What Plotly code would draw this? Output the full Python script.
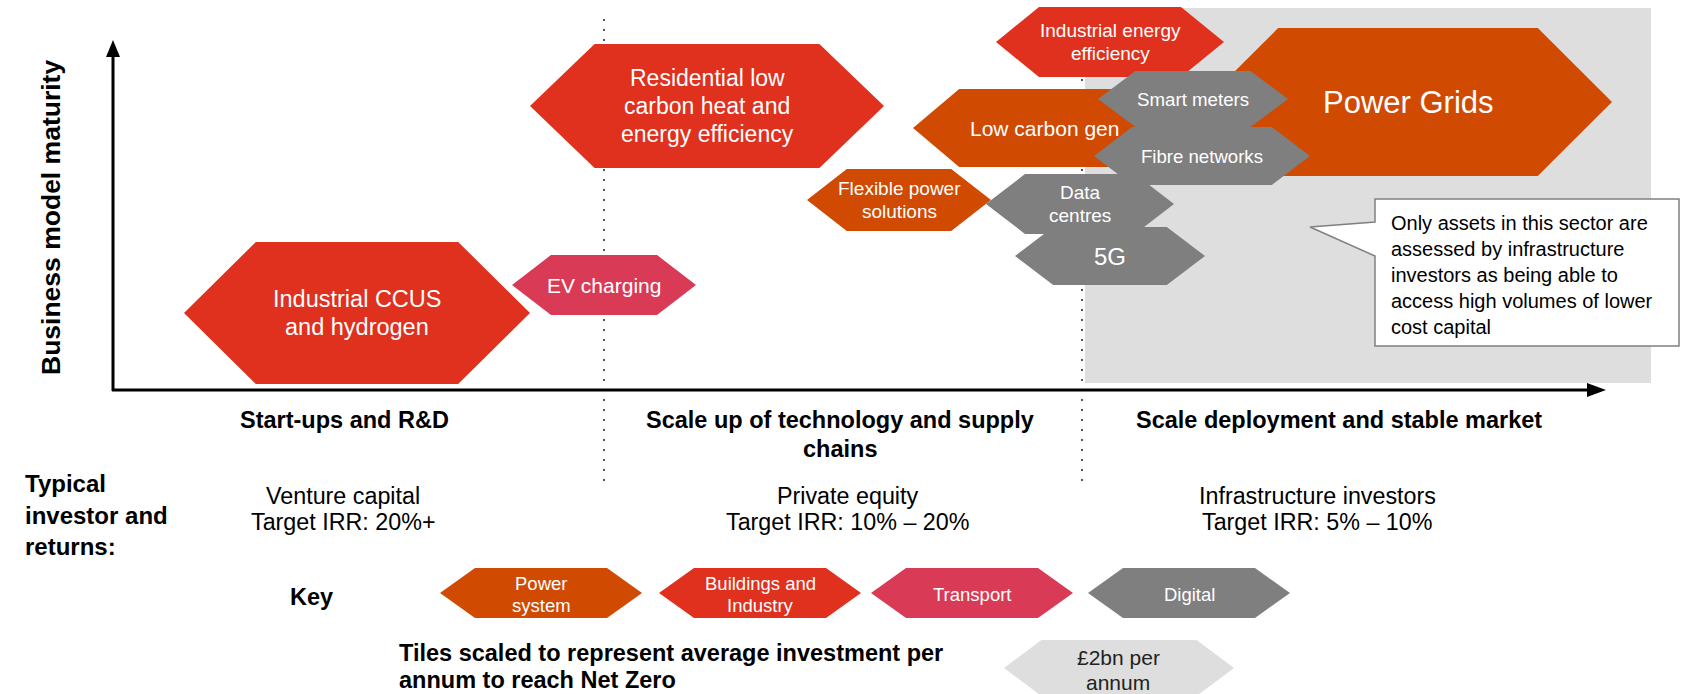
import plotly.graph_objects as go

W, H = 1681, 694
FONT = "Liberation Sans, Arial, sans-serif"

# sector colours
sector_colors = {
    "Power system": "#D04A02",
    "Buildings and Industry": "#E0301E",
    "Transport": "#D93A56",
    "Digital": "#7F7F7F",
}

# tiles on the maturity map (drawn in this order)
tile_labels = ["Industrial CCUS\nand hydrogen", "EV charging",
               "Residential low\ncarbon heat and\nenergy efficiency",
               "Industrial energy\nefficiency", "Power Grids", "Low carbon gen",
               "Flexible power\nsolutions", "Data\ncentres", "5G",
               "Fibre networks", "Smart meters"]
tile_sector = ["Buildings and Industry", "Transport", "Buildings and Industry",
               "Buildings and Industry", "Power system", "Power system",
               "Power system", "Digital", "Digital", "Digital", "Digital"]
tile_x = [357, 604, 707, 1110, 1408, 1044, 899, 1080, 1110, 1202, 1193]
tile_y = [313, 285, 106, 42, 102, 128, 200, 204, 256, 156, 99]
tile_half_w = [173, 92, 177, 114, 204, 131, 92, 94, 95, 108, 95]
tile_half_h = [71, 30, 62, 35, 74, 39, 31, 30, 29, 29, 28]
label_px = [23.5, 21, 23, 19, 31, 21, 19, 19, 24, 18.6, 18.7]

# stages along the x axis
stage_labels = ["Start-ups and R&D", "Scale up of technology and supply\nchains",
                "Scale deployment and stable market"]
stage_x = [344, 840, 1339]
stage_dividers = [604, 1082]
investor_type = ["Venture capital", "Private equity", "Infrastructure investors"]
target_irr = ["Target IRR: 20%+", "Target IRR: 10% – 20%", "Target IRR: 5% – 10%"]
investor_x = [343, 847, 1317]

# key
key_sectors = ["Power system", "Buildings and Industry", "Transport", "Digital"]
key_labels = ["Power\nsystem", "Buildings and\nIndustry", "Transport", "Digital"]
key_x = [541, 760, 972, 1189]
scale_label = "£2bn per\nannum"

callout = ("Only assets in this sector are\nassessed by infrastructure\n"
           "investors as being able to\naccess high volumes of lower\ncost capital")


def hexagon(cx, cy, hw, hh):
    d = 0.8 * hh + 15
    pts = [(cx - hw, cy), (cx - hw + d, cy - hh), (cx + hw - d, cy - hh),
           (cx + hw, cy), (cx + hw - d, cy + hh), (cx - hw + d, cy + hh)]
    return "M" + " L".join(f"{x},{y}" for x, y in pts) + " Z"


shapes = []
annotations = []


def add_text(x, y, text, size, color="#000000", bold=False, anchor="center", spacing=None):
    lines = text.split("\n")
    sp = spacing if spacing else size * 1.2
    y0 = y - sp * (len(lines) - 1) / 2
    for i, line in enumerate(lines):
        annotations.append(dict(
            x=x, y=y0 + i * sp, xref="x", yref="y", showarrow=False,
            text=f"<b>{line}</b>" if bold else line,
            xanchor=anchor, yanchor="middle",
            font=dict(family=FONT, size=size, color=color)))


# grey "infrastructure" zone
shapes.append(dict(type="rect", x0=1085, x1=1651, y0=8, y1=383,
                   fillcolor="#DEDEDE", line=dict(width=0), layer="below"))

# dotted stage dividers
for dx in stage_dividers:
    shapes.append(dict(type="line", x0=dx, x1=dx, y0=19, y1=482,
                       line=dict(color="#555555", width=2, dash="2px,8px"), layer="below"))

# axes with arrow heads
shapes.append(dict(type="line", x0=113, x1=113, y0=391, y1=52, line=dict(color="black", width=3)))
shapes.append(dict(type="line", x0=112, x1=1592, y0=390, y1=390, line=dict(color="black", width=3)))
shapes.append(dict(type="path", path="M113,40 L106,57 L120,57 Z", fillcolor="black", line=dict(width=0)))
shapes.append(dict(type="path", path="M1606,390 L1587,383 L1587,397 Z", fillcolor="black", line=dict(width=0)))

# callout box
shapes.append(dict(type="path",
                   path="M1375,199 L1679,199 L1679,346 L1375,346 L1375,256 L1310,227 L1375,222 Z",
                   fillcolor="white", line=dict(color="#808080", width=1.5)))

# tiles
for lab, sec, x, y, hw, hh, fs in zip(tile_labels, tile_sector, tile_x, tile_y,
                                      tile_half_w, tile_half_h, label_px):
    shapes.append(dict(type="path", path=hexagon(x, y, hw, hh),
                       fillcolor=sector_colors[sec], line=dict(width=0)))
    add_text(x, y, lab, fs, "white")

# key tiles
for sec, lab, x in zip(key_sectors, key_labels, key_x):
    shapes.append(dict(type="path", path=hexagon(x, 593, 101, 25),
                       fillcolor=sector_colors[sec], line=dict(width=0)))
    add_text(x, 594, lab, 18.5, "white", spacing=22)

shapes.append(dict(type="path", path=hexagon(1119, 668, 115, 28),
                   fillcolor="#DEDEDE", line=dict(width=0)))
add_text(1118, 670, scale_label, 21, "#222222", spacing=25)

# text blocks
annotations.append(dict(x=51, y=218, xref="x", yref="y", showarrow=False, textangle=-90,
                        text="<b>Business model maturity</b>", xanchor="center", yanchor="middle",
                        font=dict(family=FONT, size=26.5, color="black")))

for lab, x in zip(stage_labels, stage_x):
    n = lab.count("\n")
    add_text(x, 420 + n * 29 / 2, lab, 23.5, bold=True, spacing=29)

for inv, irr, x in zip(investor_type, target_irr, investor_x):
    add_text(x, 509, inv + "\n" + irr, 23.3, spacing=25.5)

add_text(23, 515, "Typical\ninvestor and\nreturns:", 24, bold=True, anchor="left", spacing=31.5)
add_text(311, 597, "Key", 23.5, bold=True)
add_text(397, 666, "Tiles scaled to represent average investment per\nannum to reach Net Zero",
         23.5, bold=True, anchor="left", spacing=27)
add_text(1389, 275, callout, 20, anchor="left", spacing=26)

fig = go.Figure(go.Scatter(x=tile_x, y=tile_y, mode="markers",
                           marker=dict(opacity=0), hoverinfo="skip", showlegend=False))
fig.update_layout(
    width=W, height=H,
    margin=dict(l=0, r=0, t=0, b=0),
    paper_bgcolor="white", plot_bgcolor="white",
    xaxis=dict(range=[0, W], visible=False, fixedrange=True),
    yaxis=dict(range=[H, 0], visible=False, fixedrange=True),
    shapes=shapes, annotations=annotations,
    showlegend=False,
)
fig.write_html("out.html", config={"displayModeBar": False},
               post_script="document.body.style.margin='0';document.body.style.overflow='hidden';")
